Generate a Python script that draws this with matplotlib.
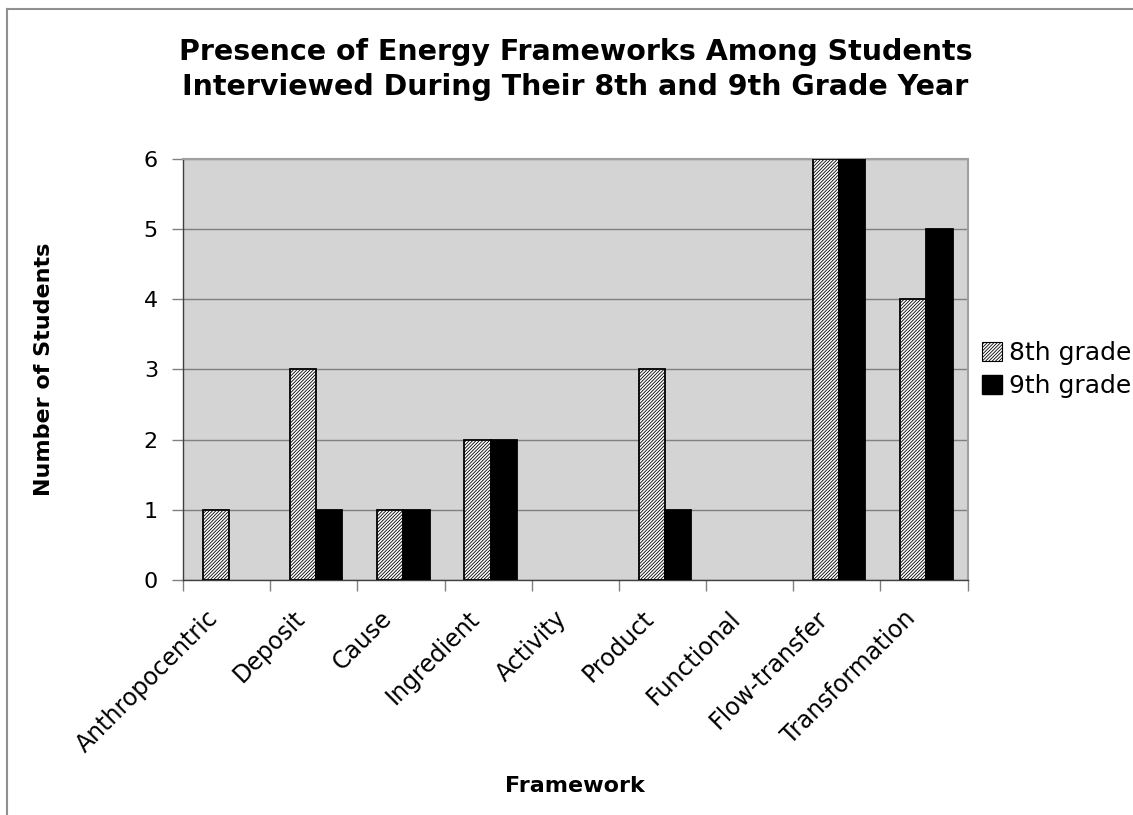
import matplotlib.pyplot as plt
import numpy as np
from matplotlib.lines import Line2D
from matplotlib.patches import Patch
from matplotlib.transforms import ScaledTranslation

frameworks = ['Anthropocentric', 'Deposit', 'Cause', 'Ingredient', 'Activity',
              'Product', 'Functional', 'Flow-transfer', 'Transformation']
grade8 = [1, 3, 1, 2, 0, 3, 0, 6, 4]
grade9 = [0, 1, 1, 2, 0, 1, 0, 6, 5]
series_names = ['8th grade', '9th grade']

plt.rcParams['font.family'] = ['DejaVu Sans']
plt.rcParams['hatch.linewidth'] = 0.6

fig = plt.figure(figsize=(11.33, 8.15), dpi=100)
ax = fig.add_axes([0.1615, 0.2883, 0.6925, 0.5167])

x = np.arange(len(frameworks))
w = 0.3
off = 0.028
hatch8 = '//////////'
b8 = ax.bar(x - w / 2 + off, grade8, w, facecolor='white', edgecolor='black',
            hatch=hatch8, linewidth=1.3, zorder=3)
b9 = ax.bar(x + w / 2 + off, grade9, w, facecolor='black', edgecolor='black',
            linewidth=1.3, zorder=3)
# empty bars leave no outline on the axis
for bars, vals in [(b8, grade8), (b9, grade9)]:
    for r, v in zip(bars, vals):
        if v == 0:
            r.set_visible(False)

ax.set_facecolor('#d4d4d4')
ax.set_xlim(-0.5, len(frameworks) - 0.5)
ax.set_ylim(0, 6)
ax.set_yticks(range(0, 7))
ax.yaxis.grid(True, color='#808080', linewidth=1.0, zorder=1)
ax.set_axisbelow(True)

# ticks at category boundaries, labels at centres
ax.set_xticks(np.arange(-0.5, len(frameworks), 1.0))
ax.set_xticklabels([])
ax.set_xticks(x, minor=True)
ax.set_xticklabels(frameworks, minor=True, rotation=45, ha='right', va='center',
                   rotation_mode='anchor', fontsize=17)
ax.tick_params(axis='x', which='minor', length=0, pad=25)
ax.tick_params(axis='x', which='major', length=8, color='#808080', width=1)
ax.tick_params(axis='y', length=8, color='#808080', width=1, labelsize=16, pad=10)
shift = ScaledTranslation(-9 / 72, 0, fig.dpi_scale_trans)
for lab in ax.get_xticklabels(minor=True):
    lab.set_transform(lab.get_transform() + shift)

for s in ['top', 'right']:
    ax.spines[s].set_color('#a0a0a0')
    ax.spines[s].set_linewidth(1.5)
for s in ['left', 'bottom']:
    ax.spines[s].set_color('#404040')
    ax.spines[s].set_linewidth(1.0)

ax.set_ylabel('Number of Students', fontsize=16, fontweight='bold')
ax.set_xlabel('Framework', fontsize=16, fontweight='bold')
ax.yaxis.set_label_coords(-0.165, 0.5)
ax.xaxis.set_label_coords(0.5, -0.465)

fig.text(0.508, 0.915, 'Presence of Energy Frameworks Among Students\n'
         'Interviewed During Their 8th and 9th Grade Year',
         ha='center', va='center', fontsize=20.5, fontweight='bold', linespacing=1.3)

handles = [Patch(facecolor='white', edgecolor='black', hatch=hatch8, linewidth=0.8),
           Patch(facecolor='black', edgecolor='black')]
ax.legend(handles, series_names, loc='center left', bbox_to_anchor=(1.018, 0.5),
          frameon=False, fontsize=18, handlelength=0.8, handleheight=0.8,
          handletextpad=0.3, labelspacing=0.35, borderaxespad=0, borderpad=0)

# outer frame (top and left only)
fig.add_artist(Line2D([7 / 1133, 1.0], [1 - 9 / 815, 1 - 9 / 815],
                      transform=fig.transFigure, color='#909090', linewidth=1.5))
fig.add_artist(Line2D([7 / 1133, 7 / 1133], [0.0, 1 - 9 / 815],
                      transform=fig.transFigure, color='#909090', linewidth=1.5))

fig.savefig('out.png', dpi=100, facecolor='white')
